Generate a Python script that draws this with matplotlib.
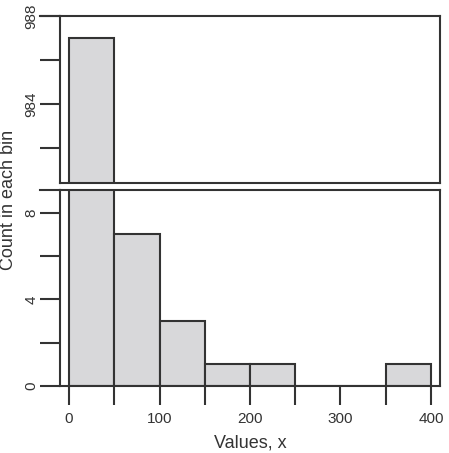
import matplotlib
matplotlib.use("Agg")
import matplotlib.pyplot as plt
import numpy as np

bin_edges = [0, 50, 100, 150, 200, 250, 300, 350, 400]
counts = [987, 7, 3, 1, 1, 0, 0, 1]
x_ticks = [0, 50, 100, 150, 200, 250, 300, 350, 400]
x_labels = ["0", "", "100", "", "200", "", "300", "", "400"]
top_yticks = [982, 984, 986, 988]
top_ylabels = ["", "984", "", "988"]
bot_yticks = [0, 2, 4, 6, 8]
bot_ylabels = ["0", "", "4", "", "8"]

plt.rcParams['font.family'] = ['Liberation Sans', 'DejaVu Sans']

W, H = 449, 453
fig = plt.figure(figsize=(W / 100, H / 100), dpi=100)
ec = '#333333'
fc = '#d8d8da'
lw = 1.5

def fx(px):
    return px / W

def fy(py):
    return 1 - py / H

left, right = fx(60), fx(440)
ax_top = fig.add_axes([left, fy(183), right - left, fy(16) - fy(183)])
ax_bot = fig.add_axes([left, fy(386), right - left, fy(190) - fy(386)])

edges = np.array(bin_edges)
lefts = edges[:-1]
widths = np.diff(edges)
for ax in (ax_top, ax_bot):
    ax.bar(lefts, counts, width=widths, align='edge', color=fc,
           edgecolor=ec, linewidth=lw, zorder=2)
    ax.set_xlim(-10, 410)
    for s in ax.spines.values():
        s.set_color(ec)
        s.set_linewidth(lw)
        s.set_zorder(3)

ax_top.set_ylim(980.4, 988)
ax_bot.set_ylim(0, 9.05)

ax_top.set_xticks([])
ax_top.set_yticks(top_yticks, labels=top_ylabels)
ax_bot.set_yticks(bot_yticks, labels=bot_ylabels)
ax_bot.set_xticks(x_ticks, labels=x_labels)

for ax in (ax_top, ax_bot):
    ax.tick_params(axis='y', direction='out', length=14.4, width=lw,
                   color=ec, labelsize=11, pad=1, labelcolor='#333333')
    for lab in ax.get_yticklabels():
        lab.set_rotation(90)
        lab.set_va('center')
ax_bot.tick_params(axis='x', direction='out', length=13.5, width=lw,
                   color=ec, labelsize=11, pad=5, labelcolor='#333333')

ax_bot.set_xlabel('Values, x', fontsize=13, color='#333333', labelpad=6)
fig.text(fx(9), fy(200), 'Count in each bin', rotation=90, fontsize=13,
         color='#333333', ha='center', va='center')

# extend top spine of bottom panel leftwards (break marker)
fig.add_artist(plt.Line2D([fx(40), fx(60)], [fy(190), fy(190)],
                          color=ec, linewidth=lw))
fig.add_artist(plt.Line2D([fx(40), fx(60)], [fy(16), fy(16)],
                          color=ec, linewidth=lw))

fig.savefig('out.png', dpi=100)
